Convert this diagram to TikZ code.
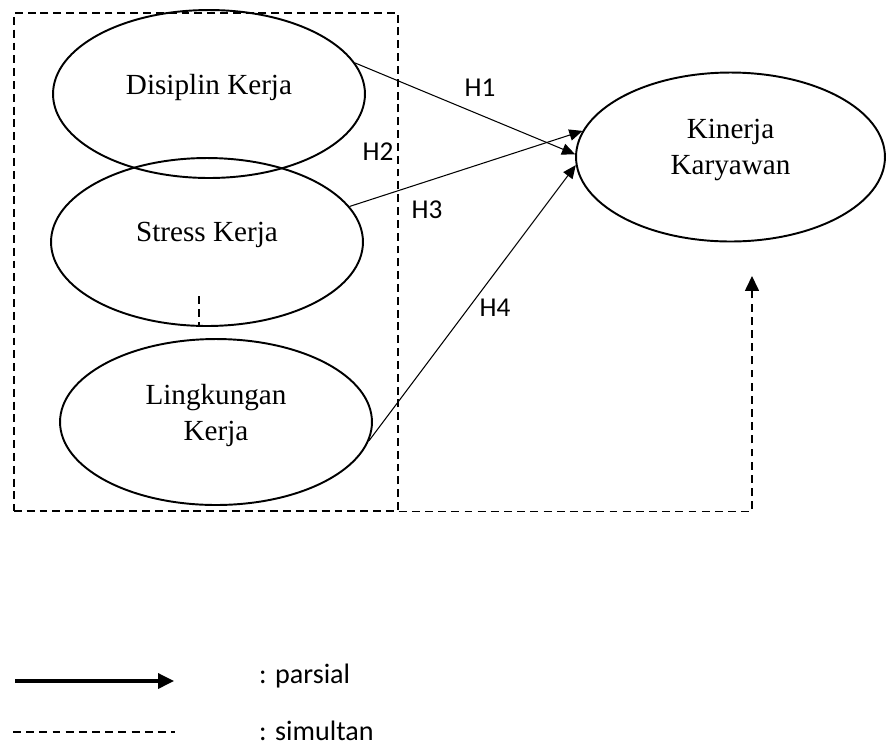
\documentclass[tikz,border=0pt]{standalone}
\usepackage{fontspec}
\setmainfont{Liberation Serif}
\newfontfamily\calibri{Carlito}
\usetikzlibrary{shapes.geometric,arrows.meta}

\begin{document}
\begin{tikzpicture}[
    x=0.02cm, y=-0.02cm,
    var/.style={draw, ellipse, line width=1.1pt, inner sep=0pt,
        minimum width=6.24cm, minimum height=3.36cm},
    var text/.style={align=center, yshift=0.14cm,
        font=\fontsize{16.6}{20.5}\selectfont},
    partial/.style={-{Triangle[length=7.5pt,width=6.5pt]}, line width=0.6pt},
    simul/.style={dash pattern=on 4.5pt off 3pt, line width=0.7pt},
    hyp label/.style={font=\calibri\fontsize{15.5}{18}\selectfont},
    legend label/.style={anchor=base west, font=\calibri\fontsize{16}{19}\selectfont}
]
    \useasboundingbox (0,0) rectangle (886,745);

    % variabel bebas
    \node[draw, anchor=north west, inner sep=0pt, line width=1pt,
        dash pattern=on 4.5pt off 2.8pt,
        minimum width=7.68cm, minimum height=9.96cm] (grp) at (13,12) {};
    \node[var] (dk) at (209,94) {};
    \node[var text] (dk-t) at (dk) {Disiplin Kerja};
    \node[var] (sk) at (207,242) {};
    \node[var text] (sk-t) at (sk) {Stress Kerja};
    \node[var, minimum height=3.32cm] (lk) at (216,422) {};
    \node[var text] (lk-t) at (lk) {Lingkungan\\Kerja};

    % variabel terikat
    \node[var, minimum width=6.18cm, minimum height=3.38cm] (kk) at (730.5,157) {};
    \node[var text] (kk-t) at (kk) {Kinerja\\Karyawan};

    % pengaruh parsial
    \draw[partial] (dk.12) -- (kk.179);
    \draw[partial] (sk.14) -- (kk.170);
    \draw[partial] (lk.-7) -- (kk.183);
    \foreach \lbl/\pos in {H1/{(480,88)}, H2/{(378,152)}, H3/{(427,210)}, H4/{(495,308)}}
        \node[hyp label] (lbl-\lbl) at \pos {\lbl};

    % pengaruh simultan
    \coordinate (sim-end) at (752,276);
    \draw[simul, -{Triangle[length=8.5pt,width=8pt]}] (grp.south east) -| (sim-end);
    \coordinate (sk-dash) at (199,296);
    \draw[simul] (sk-dash) -- (sk-dash |- sk.south);

    % keterangan
    \coordinate (leg-a1) at (15,681);
    \coordinate (leg-a2) at (174,681);
    \draw[line width=1.8pt, -{Triangle[length=9pt,width=8.5pt]}] (leg-a1) -- (leg-a2);
    \node[legend label] (leg-p) at (253,683) {: parsial};
    \coordinate (leg-d1) at (13,732);
    \coordinate (leg-d2) at (175,732);
    \draw[simul] (leg-d1) -- (leg-d2);
    \node[legend label] (leg-s) at (253,740) {: simultan};
\end{tikzpicture}
\end{document}
